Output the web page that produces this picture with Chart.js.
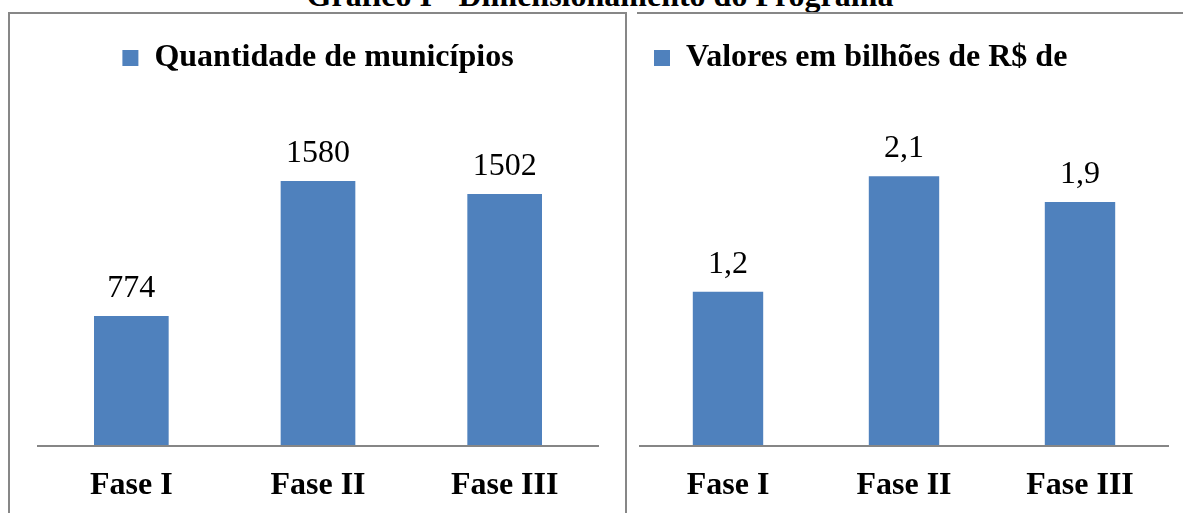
<!DOCTYPE html>
<html>
<head>
<meta charset="utf-8">
<script src="https://cdn.jsdelivr.net/npm/chart.js@4.4.1/dist/chart.umd.min.js"></script>
<style>
  body { margin: 0; background: #fff; width: 1183px; height: 513px; overflow: hidden; position: relative; }
  #title { position: absolute; left: 0; width: 1200px; top: -21px; text-align: center;
           font: bold 32px/32px "Liberation Serif", "Times New Roman", serif; color: #000; }
  .panel { position: absolute; top: 12px; border-top: 2px solid #878787; }
  #p1 { left: 8px; width: 615px; height: 540px; border-left: 2px solid #878787; border-right: 2px solid #878787; }
  #p2 { left: 637px; width: 560px; height: 540px; }
  canvas { display: block; }
</style>
</head>
<body>
<div id="title">Gráfico I - Dimensionamento do Programa</div>
<div class="panel" id="p1"><canvas id="chart1" width="615" height="521"></canvas></div>
<div class="panel" id="p2"><canvas id="chart2" width="546" height="521"></canvas></div>
<script>
// data
const fases = ["Fase I", "Fase II", "Fase III"];
const municipios = [774, 1580, 1502];
const valores = [1.2, 2.1, 1.9];
const labelMunicipios = "Quantidade de municípios";
const labelValores = "Valores em bilhões de R$ de";

const blue = "#4F81BD";
const gray = "#868686";
const serif = '"Liberation Serif", "Times New Roman", serif';

Chart.defaults.font.family = serif;
Chart.defaults.color = "#000";

// numbers written above each bar
const valueLabels = {
  id: "valueLabels",
  afterDatasetsDraw(chart) {
    const ctx = chart.ctx;
    const meta = chart.getDatasetMeta(0);
    const data = chart.data.datasets[0].data;
    ctx.save();
    ctx.font = "32px " + serif;
    ctx.fillStyle = "#000";
    ctx.textAlign = "center";
    ctx.textBaseline = "alphabetic";
    meta.data.forEach((bar, i) => {
      ctx.fillText(String(data[i]).replace(".", ","), bar.x, bar.y - 19);
    });
    ctx.restore();
  }
};

function makeChart(id, label, values, yMax, pad, legendAlign) {
  return new Chart(id, {
    type: "bar",
    data: {
      labels: fases,
      datasets: [{
        label: label,
        data: values,
        backgroundColor: blue,
        barPercentage: 0.4,
        categoryPercentage: 1
      }]
    },
    options: {
      responsive: false,
      animation: false,
      events: [],
      layout: { padding: pad },
      plugins: {
        legend: {
          align: legendAlign,
          labels: {
            boxWidth: 16,
            boxHeight: 16,
            padding: 14,
            font: { size: 32, weight: "bold" }
          }
        },
        tooltip: { enabled: false }
      },
      scales: {
        x: {
          grid: { display: false, drawTicks: false },
          border: { display: true, color: gray, width: 2, z: 1 },
          ticks: { padding: 21, font: { size: 32, weight: "bold" } }
        },
        y: { display: false, min: 0, max: yMax }
      }
    },
    plugins: [valueLabels]
  });
}

makeChart("chart1", labelMunicipios, municipios, 2159, { left: 28, right: 27, top: 14, bottom: 9 }, "center");
makeChart("chart2", labelValores, valores, 2.82, { left: 3, right: 15, top: 14, bottom: 9 }, "start");
</script>
</body>
</html>
